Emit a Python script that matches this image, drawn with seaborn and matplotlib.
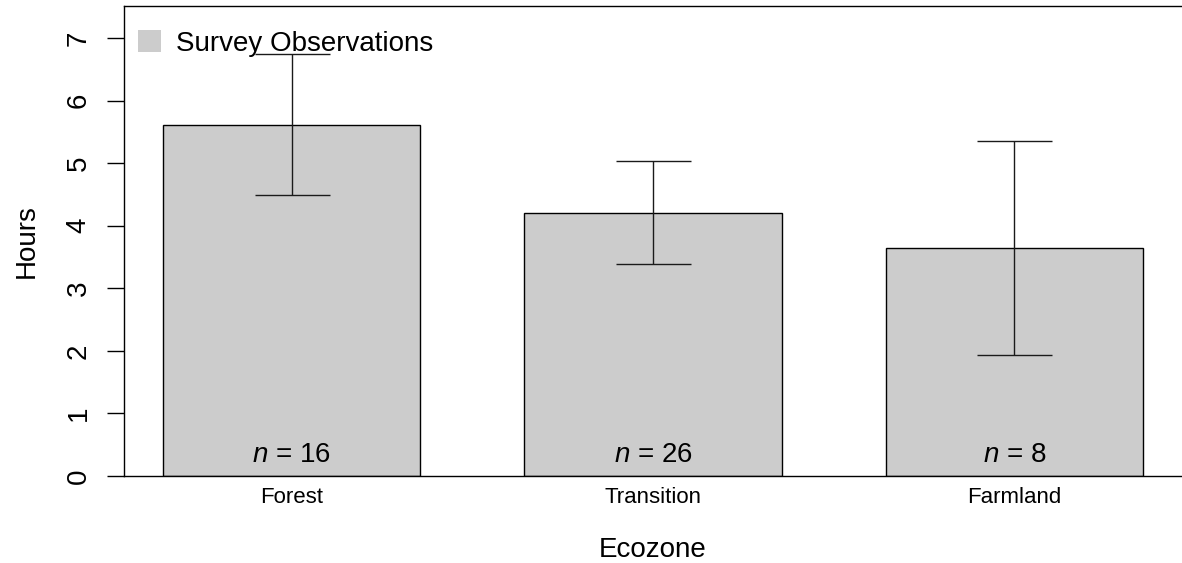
import matplotlib
matplotlib.use("Agg")
import matplotlib.pyplot as plt
import seaborn as sns
from matplotlib.patches import Patch

# data
ecozones = ["Forest", "Transition", "Farmland"]
mean_hours = [5.61, 4.21, 3.65]
err_low = [4.49, 3.39, 1.94]
err_high = [6.74, 5.04, 5.35]
n_obs = [16, 26, 8]

sns.set_style("ticks")
plt.rcParams["font.family"] = ["Liberation Sans", "DejaVu Sans"]
plt.rcParams["mathtext.fontset"] = "custom"
plt.rcParams["mathtext.rm"] = "Liberation Sans"
plt.rcParams["mathtext.it"] = "Liberation Sans:italic"
for k in ["text.color", "axes.labelcolor", "xtick.color", "ytick.color"]:
    plt.rcParams[k] = "black"

fig = plt.figure(figsize=(11.82, 5.63), dpi=100)
ax = fig.add_axes([124 / 1182, 1 - 476 / 563, 1058 / 1182, 470 / 563])

sns.barplot(x=ecozones, y=mean_hours, color="#CCCCCC", saturation=1,
            edgecolor="black", linewidth=1, width=0.713, errorbar=None, ax=ax)

## error bars
xs = list(range(len(ecozones)))
lower = [m - lo for m, lo in zip(mean_hours, err_low)]
upper = [hi - m for m, hi in zip(mean_hours, err_high)]
ax.errorbar(xs, mean_hours, yerr=[lower, upper], fmt="none", ecolor="#1a1a1a",
            elinewidth=1, capsize=27, capthick=1)

## n labels
for x, n in zip(xs, n_obs):
    ax.text(x, 0.33, "$n$ = %d" % n, ha="center", va="center", fontsize=20)

ax.set_xlim(-0.464, 2.464)
ax.set_ylim(0, 7.51)
ax.set_yticks(range(8))
ax.set_yticklabels([str(i) for i in range(8)], rotation=90, va="center", fontsize=20)
ax.tick_params(axis="y", length=12.2, width=1, pad=11, color="black")
ax.tick_params(axis="x", length=0, pad=8, labelsize=16)

for s in ["left", "top", "bottom"]:
    ax.spines[s].set_visible(True)
    ax.spines[s].set_color("black")
    ax.spines[s].set_linewidth(1)
ax.spines["right"].set_visible(False)

ax.set_xlabel("Ecozone", fontsize=20, labelpad=21)
ax.set_ylabel("Hours", fontsize=20, labelpad=19)

handle = Patch(facecolor="#CCCCCC", edgecolor="none")
ax.legend([handle], ["Survey Observations"], loc="upper left",
          bbox_to_anchor=(138 / 1182, 1 - 30 / 563), bbox_transform=fig.transFigure,
          frameon=False, fontsize=20, borderpad=0, borderaxespad=0,
          handlelength=0.83, handleheight=0.83, handletextpad=0.55)

fig.savefig("out.png", dpi=100)
